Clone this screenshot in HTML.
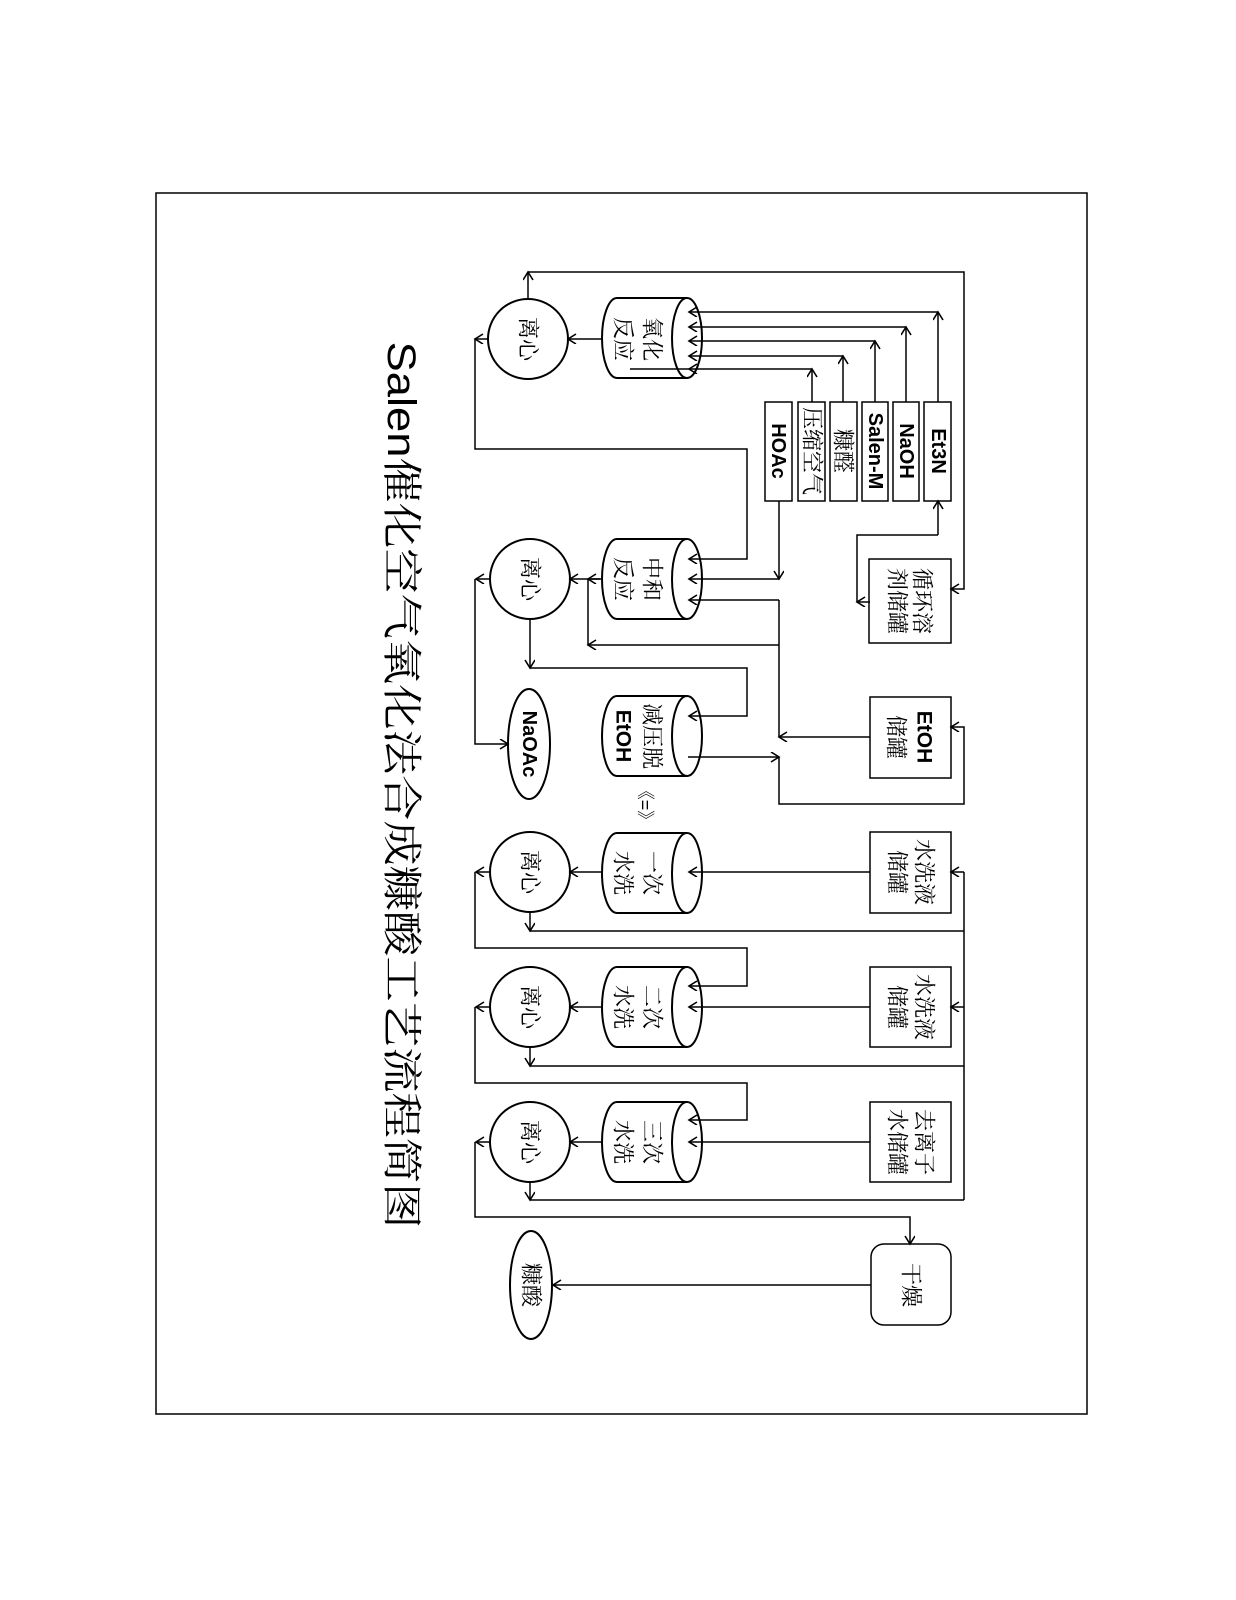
<!DOCTYPE html>
<html><head><meta charset="utf-8"><style>
html,body{margin:0;padding:0;background:#fff}
svg{display:block}
text{font-family:"Liberation Sans","Noto Serif CJK SC",serif;fill:#000}
.b{font-family:"Liberation Sans","Noto Sans CJK SC",sans-serif;font-weight:bold}
</style></head><body>
<svg width="1236" height="1600" viewBox="0 0 1236 1600" xmlns="http://www.w3.org/2000/svg">
<defs>
<marker id="a" markerWidth="12" markerHeight="12" refX="9" refY="5" orient="auto" markerUnits="userSpaceOnUse">
<path d="M1,0 L9,5 L1,10" fill="none" stroke="#000" stroke-width="1.6"/>
</marker>
</defs>
<rect x="156" y="193" width="931" height="1221" fill="none" stroke="#000" stroke-width="1.5"/>

<g fill="none" stroke="#000" stroke-width="2">
<!-- cylinders -->
<path d="M617,298 L687,298 M617,378 L687,378 M617,378 A15,40 0 0 1 617,298"/><ellipse cx="687" cy="338" rx="15" ry="40"/>
<path d="M617,539 L687,539 M617,619 L687,619 M617,619 A15,40 0 0 1 617,539"/><ellipse cx="687" cy="579" rx="15" ry="40"/>
<path d="M617,696 L687,696 M617,776 L687,776 M617,776 A15,40 0 0 1 617,696"/><ellipse cx="687" cy="736" rx="15" ry="40"/>
<path d="M617,833 L687,833 M617,913 L687,913 M617,913 A15,40 0 0 1 617,833"/><ellipse cx="687" cy="873" rx="15" ry="40"/>
<path d="M617,967 L687,967 M617,1047 L687,1047 M617,1047 A15,40 0 0 1 617,967"/><ellipse cx="687" cy="1007" rx="15" ry="40"/>
<path d="M617,1102 L687,1102 M617,1182 L687,1182 M617,1182 A15,40 0 0 1 617,1102"/><ellipse cx="687" cy="1142" rx="15" ry="40"/>
<!-- centrifuges -->
<circle cx="528" cy="339" r="40"/><circle cx="530" cy="579" r="40"/><circle cx="530" cy="872" r="40"/><circle cx="530" cy="1007" r="40"/><circle cx="530" cy="1142" r="40"/>
<ellipse cx="529" cy="744" rx="21" ry="55"/><ellipse cx="531" cy="1285" rx="21" ry="54"/>
</g>
<g fill="none" stroke="#000" stroke-width="1.5">
<!-- boxes -->
<rect x="765" y="402" width="27" height="99"/><rect x="798" y="402" width="27" height="99"/><rect x="830" y="402" width="27" height="99"/>
<rect x="862" y="402" width="26" height="99"/><rect x="893" y="402" width="26" height="99"/><rect x="924" y="402" width="27" height="99"/>
<rect x="869" y="559" width="82" height="84"/><rect x="870" y="697" width="81" height="81"/>
<rect x="870" y="832" width="81" height="81"/><rect x="870" y="967" width="81" height="80"/><rect x="870" y="1102" width="81" height="80"/>
<rect x="871" y="1244" width="80" height="81" rx="13"/>
</g>
<g fill="none" stroke="#000" stroke-width="1.5">
<polyline points="938,402 938,312" marker-end="url(#a)"/><polyline points="938,312 689,312" marker-end="url(#a)"/>
<polyline points="906,402 906,327" marker-end="url(#a)"/><polyline points="906,327 689,327" marker-end="url(#a)"/>
<polyline points="875,402 875,341" marker-end="url(#a)"/><polyline points="875,341 689,341" marker-end="url(#a)"/>
<polyline points="843,402 843,356" marker-end="url(#a)"/><polyline points="843,356 689,356" marker-end="url(#a)"/>
<polyline points="812,402 812,369" marker-end="url(#a)"/><polyline points="812,369 689,369" marker-end="url(#a)"/><line x1="689" y1="369" x2="630" y2="369"/>
<polyline points="602,339 568,339" marker-end="url(#a)"/>
<polyline points="528,299 528,272" marker-end="url(#a)"/>
<polyline points="528,272 964,272 964,589 951,589" marker-end="url(#a)"/>
<polyline points="488,339 475,339" marker-end="url(#a)"/>
<polyline points="475,339 475,449 747,449 747,559 689,559" marker-end="url(#a)"/>
<polyline points="779,501 779,579" marker-end="url(#a)"/><polyline points="779,579 689,579" marker-end="url(#a)"/>
<polyline points="938,535 938,501" marker-end="url(#a)"/><polyline points="938,535 857,535 857,602"/>
<polyline points="870,602 857,602" marker-end="url(#a)"/>
<polyline points="602,579 570,579" marker-end="url(#a)"/>
<polyline points="779,600 689,600" marker-end="url(#a)"/><line x1="779" y1="600" x2="779" y2="737"/>
<polyline points="870,737 779,737" marker-end="url(#a)"/>
<polyline points="779,645 588,645" marker-end="url(#a)"/><line x1="588" y1="645" x2="588" y2="579"/>
<polyline points="600,579 588,579" marker-end="url(#a)"/>
<polyline points="490,579 476,579" marker-end="url(#a)"/>
<polyline points="475,579 475,744 508,744" marker-end="url(#a)"/>
<polyline points="530,619 530,668" marker-end="url(#a)"/>
<polyline points="530,668 747,668 747,716 689,716" marker-end="url(#a)"/>
<polyline points="688,757 779,757" marker-end="url(#a)"/>
<polyline points="779,757 779,804 964,804 964,727 951,727" marker-end="url(#a)"/>
<polyline points="870,872 689,872" marker-end="url(#a)"/><polyline points="603,872 570,872" marker-end="url(#a)"/>
<polyline points="490,872 476,872" marker-end="url(#a)"/>
<polyline points="475,872 475,948 747,948 747,986 689,986" marker-end="url(#a)"/>
<polyline points="530,912 530,931" marker-end="url(#a)"/><line x1="530" y1="931" x2="964" y2="931"/>
<line x1="964" y1="872" x2="964" y2="1200"/>
<polyline points="964,872 951,872" marker-end="url(#a)"/><polyline points="964,1007 951,1007" marker-end="url(#a)"/>
<polyline points="870,1007 689,1007" marker-end="url(#a)"/><polyline points="602,1007 570,1007" marker-end="url(#a)"/>
<polyline points="490,1007 476,1007" marker-end="url(#a)"/>
<polyline points="475,1007 475,1083 747,1083 747,1120 689,1120" marker-end="url(#a)"/>
<polyline points="530,1047 530,1066" marker-end="url(#a)"/><line x1="530" y1="1066" x2="964" y2="1066"/>
<polyline points="870,1142 689,1142" marker-end="url(#a)"/><polyline points="602,1142 570,1142" marker-end="url(#a)"/>
<polyline points="490,1142 476,1142" marker-end="url(#a)"/>
<polyline points="475,1142 475,1217 910,1217 910,1244" marker-end="url(#a)"/>
<polyline points="530,1182 530,1200" marker-end="url(#a)"/><line x1="530" y1="1200" x2="964" y2="1200"/>
<polyline points="871,1285 553,1285" marker-end="url(#a)"/>
</g>

<g text-anchor="middle" dominant-baseline="central" font-size="22">
<text transform="translate(401,785) rotate(90)" font-size="40" textLength="887" lengthAdjust="spacingAndGlyphs">Salen催化空气氧化法合成糠酸工艺流程简图</text>
<text transform="translate(528,339) rotate(90)">离心</text>
<text transform="translate(530,579) rotate(90)">离心</text>
<text transform="translate(530,872) rotate(90)">离心</text>
<text transform="translate(530,1007) rotate(90)">离心</text>
<text transform="translate(530,1142) rotate(90)">离心</text>
<text transform="translate(652,339) rotate(90)">氧化</text><text transform="translate(623,339) rotate(90)">反应</text>
<text transform="translate(652,579) rotate(90)">中和</text><text transform="translate(623,579) rotate(90)">反应</text>
<text transform="translate(652,736) rotate(90)">减压脱</text><text class="b" transform="translate(623,736) rotate(90)" font-size="21">EtOH</text>
<text transform="translate(645,805) rotate(90)" font-size="18">《=》</text>
<text transform="translate(652,873) rotate(90)">一次</text><text transform="translate(623,873) rotate(90)">水洗</text>
<text transform="translate(652,1007) rotate(90)">二次</text><text transform="translate(623,1007) rotate(90)">水洗</text>
<text transform="translate(652,1142) rotate(90)">三次</text><text transform="translate(623,1142) rotate(90)">水洗</text>
<text class="b" transform="translate(529,744) rotate(90)" font-size="20">NaOAc</text>
<text transform="translate(531,1285) rotate(90)">糠酸</text>
<text class="b" transform="translate(778,451) rotate(90)" font-size="20">HOAc</text>
<text transform="translate(812,451) rotate(90)">压缩空气</text>
<text transform="translate(843,451) rotate(90)">糠醛</text>
<text class="b" transform="translate(875,451) rotate(90)" font-size="20">Salen-M</text>
<text class="b" transform="translate(906,451) rotate(90)" font-size="20">NaOH</text>
<text class="b" transform="translate(938,451) rotate(90)" font-size="20">Et3N</text>
<text transform="translate(922,601) rotate(90)">循环溶</text><text transform="translate(897,601) rotate(90)">剂储罐</text>
<text class="b" transform="translate(924,737) rotate(90)" font-size="21">EtOH</text><text transform="translate(896,737) rotate(90)">储罐</text>
<text transform="translate(924,872) rotate(90)">水洗液</text><text transform="translate(897,872) rotate(90)">储罐</text>
<text transform="translate(924,1007) rotate(90)">水洗液</text><text transform="translate(897,1007) rotate(90)">储罐</text>
<text transform="translate(924,1142) rotate(90)">去离子</text><text transform="translate(897,1142) rotate(90)">水储罐</text>
<text transform="translate(911,1285) rotate(90)">干燥</text>
</g>
</svg>
</body></html>
